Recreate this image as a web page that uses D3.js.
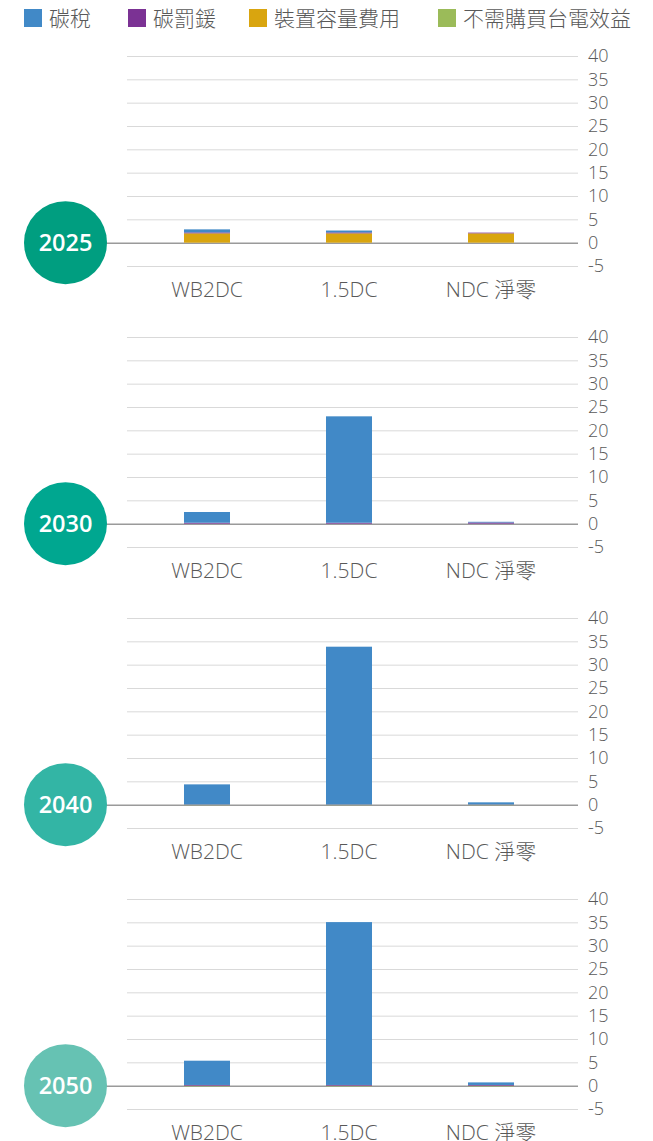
<!DOCTYPE html>
<html>
<head>
<meta charset="utf-8">
<script src="https://cdn.jsdelivr.net/npm/d3@7"></script>
<style>
  body { margin: 0; background: #fff; }
  text { font-family: "Open Sans", "Noto Sans CJK TC", sans-serif; }
</style>
</head>
<body>
<svg id="svg1"></svg>
<script>
// data
const categories = ["WB2DC", "1.5DC", "NDC 淨零"];
const years = ["2025", "2030", "2040", "2050"];
const seriesNames = ["碳稅", "碳罰鍰", "裝置容量費用", "不需購買台電效益"];
const seriesColors = ["#4189c7", "#7b3294", "#d9a50f", "#9bbb59"];
const yearColors = ["#009e80", "#00a790", "#33b5a5", "#66c2b3"];
const yTicks = [-5, 0, 5, 10, 15, 20, 25, 30, 35, 40];

// values per year, one array per series (WB2DC, 1.5DC, NDC 淨零)
const carbonTax = {
  "2025": [0.65, 0.4, 0],
  "2030": [2.3, 22.8, 0.15],
  "2040": [4.3, 33.8, 0.45],
  "2050": [5.2, 34.9, 0.55]
};
const carbonPenalty = {
  "2025": [0.2, 0.2, 0.15],
  "2030": [0.2, 0.2, 0.25],
  "2040": [0.05, 0.05, 0.05],
  "2050": [0.15, 0.15, 0.15]
};
const capacityFee = {
  "2025": [2.0, 2.0, 2.0],
  "2030": [0, 0, 0],
  "2040": [0, 0, 0],
  "2050": [0, 0, 0]
};
const noPurchaseBenefit = {
  "2025": [0, 0, 0],
  "2030": [0, 0, 0],
  "2040": [-0.1, -0.1, -0.1],
  "2050": [-0.15, -0.15, -0.15]
};

const width = 653;
const height = 1141;

const svg = d3.select('#svg1')
    .attr('width', width)
    .attr('height', height);

// legend
const legendX = [24, 128, 249, 438];
const legend = svg.append("g");
seriesNames.forEach(function(name, i) {
  legend.append("rect")
      .attr("x", legendX[i])
      .attr("y", 9)
      .attr("width", 18)
      .attr("height", 18)
      .attr("fill", seriesColors[i]);
  legend.append("text")
      .attr("x", legendX[i] + 25)
      .attr("y", 25.5)
      .attr("font-size", 21)
      .attr("font-weight", 300)
      .attr("fill", "#595959")
      .text(name);
});

const x = d3.scaleBand()
    .domain(categories)
    .range([136, 562])
    .padding(0);
const barW = x.bandwidth() * 0.324;

const panelTop = 56;
const panelStep = 281;

years.forEach(function(year, yi) {
  const top = panelTop + yi * panelStep;
  const y = d3.scaleLinear()
      .domain([-5, 40])
      .range([top + 210, top]);

  const g = svg.append("g");

  // gridlines + tick labels
  const axis = d3.axisRight(y)
      .tickValues(yTicks)
      .tickSize(578 - 127)
      .tickFormat(function(d) { return String(d); });
  const ax = g.append("g")
      .attr("transform", "translate(127,0)")
      .call(axis);
  ax.select(".domain").remove();
  ax.selectAll(".tick line")
      .attr("stroke", function(d) { return d === 0 ? "#9a9a9a" : "#d9d9d9"; })
      .attr("stroke-width", function(d) { return d === 0 ? 1.5 : 1; });
  ax.selectAll(".tick line").filter(function(d) { return d === 0; })
      .attr("x1", -40);
  ax.selectAll(".tick text")
      .attr("x", 461)
      .attr("font-size", 18)
      .attr("font-weight", 300)
      .attr("fill", "#595959")
      .attr("font-family", "'Open Sans', sans-serif");

  // stacked bars
  const rows = categories.map(function(c, i) {
    return {
      cat: c,
      "碳稅": carbonTax[year][i],
      "碳罰鍰": carbonPenalty[year][i],
      "裝置容量費用": capacityFee[year][i],
      "不需購買台電效益": noPurchaseBenefit[year][i]
    };
  });
  const stack = d3.stack()
      .keys(seriesNames.slice().reverse())
      .offset(d3.stackOffsetDiverging);
  const layers = stack(rows);

  g.selectAll("g.layer")
      .data(layers)
      .enter()
      .append("g")
      .attr("fill", function(d) { return seriesColors[seriesNames.indexOf(d.key)]; })
      .selectAll("rect")
      .data(function(d) { return d; })
      .enter()
      .append("rect")
      .attr("x", function(d) { return x(d.data.cat) + (x.bandwidth() - barW) / 2; })
      .attr("y", function(d) { return y(Math.max(d[0], d[1])); })
      .attr("width", barW)
      .attr("height", function(d) { return Math.abs(y(d[0]) - y(d[1])); });

  // category labels
  g.selectAll("text.cat")
      .data(categories)
      .enter()
      .append("text")
      .attr("class", "cat")
      .attr("x", function(d) { return x(d) + x.bandwidth() / 2; })
      .attr("y", top + 241)
      .attr("text-anchor", "middle")
      .attr("font-size", 21)
      .attr("font-weight", 300)
      .attr("fill", "#595959")
      .text(function(d) { return d; });

  // year badge
  g.append("circle")
      .attr("cx", 65.5)
      .attr("cy", y(0))
      .attr("r", 41.5)
      .attr("fill", yearColors[yi]);
  g.append("text")
      .attr("x", 65.5)
      .attr("y", y(0))
      .attr("dy", "0.36em")
      .attr("text-anchor", "middle")
      .attr("font-size", 23.5)
      .attr("font-weight", 600)
      .attr("fill", "#fff")
      .text(year);
});
</script>
</body>
</html>
